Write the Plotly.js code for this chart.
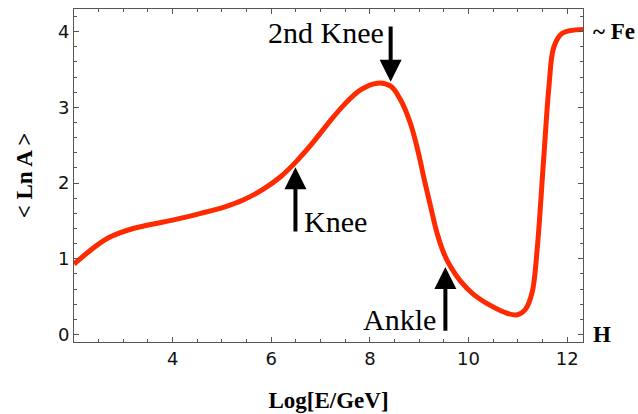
<!DOCTYPE html>
<html>
<head>
<meta charset="utf-8">
<script src="https://cdn.plot.ly/plotly-3.0.1.min.js"></script>
<style>html,body{margin:0;padding:0;background:#fff;}#chart{width:638px;height:414px;}</style>
</head>
<body>
<div id="chart"></div>
<script>
// Curve: <Ln A> vs Log10[E/GeV]
var logE = [2.0, 2.47, 2.74, 3.2, 4.0, 4.57, 5.03, 5.44, 5.84, 6.2, 6.5, 6.8, 7.13, 7.47, 7.81, 8.15, 8.42, 8.62, 8.82, 8.99, 9.09, 9.23, 9.36, 9.5, 9.63, 9.84, 10.1, 10.45, 10.78, 10.99, 11.15, 11.29, 11.39, 11.53, 11.63, 11.73, 11.9, 12.32];
var lnA  = [0.93, 1.18, 1.29, 1.40, 1.51, 1.60, 1.68, 1.78, 1.92, 2.09, 2.28, 2.50, 2.77, 3.03, 3.23, 3.32, 3.28, 3.10, 2.79, 2.38, 2.08, 1.69, 1.34, 1.07, 0.90, 0.70, 0.53, 0.38, 0.28, 0.26, 0.33, 0.56, 1.12, 2.39, 3.28, 3.80, 3.98, 4.03];

// Feature markers: label, arrow tip (x, y), arrow tail (x, y)
var featLabels = ["2nd Knee", "Knee", "Ankle"];
var featTipX  = [8.42, 6.49, 9.53];
var featTipY  = [3.34, 2.21, 0.89];
var featTailX = [8.42, 6.49, 9.53];
var featTailY = [4.09, 1.34, 0.03];

// Composition labels on the right
var compLabels = ["~ Fe", "H"];
var compY = [4.0, 0.0];

var xTickVals = [4, 6, 8, 10, 12];
var yTickVals = [0, 1, 2, 3, 4];

var annotations = [];
for (var i = 0; i < featLabels.length; i++) {
  annotations.push({
    x: featTipX[i], y: featTipY[i], ax: featTailX[i], ay: featTailY[i],
    xref: 'x', yref: 'y', axref: 'x', ayref: 'y',
    text: '', showarrow: true, arrowhead: 2, arrowsize: 1.1, arrowwidth: 4, arrowcolor: '#000'
  });
}
var serif = 'Liberation Serif, Times New Roman, serif';
annotations.push({x: featTailX[0], y: featTailY[0] - 0.1, xref: 'x', yref: 'y', text: featLabels[0], showarrow: false,
  xanchor: 'right', yanchor: 'middle', xshift: -5, font: {family: serif, size: 30, color: '#000'}});
annotations.push({x: featTailX[1], y: featTailY[1] + 0.15, xref: 'x', yref: 'y', text: featLabels[1], showarrow: false,
  xanchor: 'left', yanchor: 'middle', xshift: 7, font: {family: serif, size: 30, color: '#000'}});
annotations.push({x: featTailX[2], y: featTailY[2] + 0.17, xref: 'x', yref: 'y', text: featLabels[2], showarrow: false,
  xanchor: 'right', yanchor: 'middle', xshift: -7, font: {family: serif, size: 30, color: '#000'}});
for (var j = 0; j < compLabels.length; j++) {
  annotations.push({x: 1, xref: 'paper', y: compY[j], yref: 'y', text: '<b>' + compLabels[j] + '</b>', showarrow: false,
    xanchor: 'left', yanchor: 'middle', xshift: 8, font: {family: serif, size: 23, color: '#000'}});
}

var trace = {
  x: logE, y: lnA, type: 'scatter', mode: 'lines',
  line: {color: '#ff2a00', width: 5, shape: 'spline', smoothing: 1},
  hoverinfo: 'skip'
};

var axisCommon = {
  showline: true, linecolor: '#555', linewidth: 1, mirror: 'ticks',
  ticks: 'inside', ticklen: 5, tickcolor: '#555', tickwidth: 1,
  showgrid: false, zeroline: false,
  tickfont: {family: 'DejaVu Sans, sans-serif', size: 18, color: '#111'}
};

var layout = {
  width: 638, height: 414,
  margin: {l: 74, r: 55, t: 9, b: 72},
  paper_bgcolor: '#fff', plot_bgcolor: '#fff',
  showlegend: false,
  xaxis: Object.assign({}, axisCommon, {
    range: [2, 12.32], tickvals: xTickVals, ticktext: xTickVals.map(String),
    minor: {dtick: 0.5, tick0: 0, ticks: 'inside', ticklen: 3, tickcolor: '#555', showgrid: false},
    title: {text: '<b>Log[E/GeV]</b>', font: {family: serif, size: 23, color: '#000'}, standoff: 24}
  }),
  yaxis: Object.assign({}, axisCommon, {
    range: [-0.1, 4.3], tickvals: yTickVals, ticktext: yTickVals.map(String),
    minor: {dtick: 0.2, tick0: 0, ticks: 'inside', ticklen: 3, tickcolor: '#555', showgrid: false},
    title: {text: '<b>< Ln A ></b>', font: {family: serif, size: 23, color: '#000'}, standoff: 18}
  }),
  annotations: annotations
};

Plotly.newPlot('chart', [trace], layout, {displayModeBar: false, staticPlot: true});
</script>
</body>
</html>
